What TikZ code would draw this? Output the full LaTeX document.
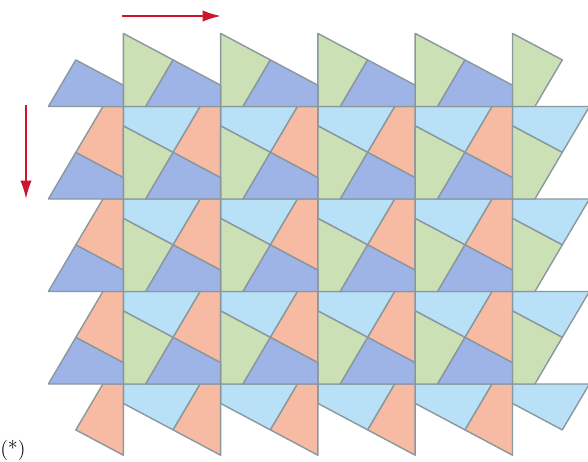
\documentclass[tikz,border=0pt]{standalone}
\usepackage{xcolor}
\usepackage{tikz}
\usetikzlibrary{arrows.meta}

\definecolor{verde}{RGB}{204,224,182}
\definecolor{azul}{RGB}{158,180,230}
\definecolor{salmon}{RGB}{247,186,162}
\definecolor{celeste}{RGB}{184,224,246}
\definecolor{borde}{RGB}{138,152,158}
\definecolor{rojo}{RGB}{205,22,45}

\begin{document}
\begin{tikzpicture}[
    x=0.025cm, y=-0.025cm,
    pieza/.style={draw=borde, line width=1pt, line join=round},
    flecha/.style={-{Latex[length=13pt, width=8pt]}, draw=rojo, line width=1.4pt}
]
    \useasboundingbox (0,0) rectangle (588,462);
    \clip (0,0) rectangle (588,462);

    % Piezas celestes
    \foreach \c in {1,...,5}
        \foreach \r in {1,...,4}
            \draw[pieza, fill=celeste, shift={({26+97.3*\c},{14+92.5*\r})}]
                (0,0) -- (76.9,0) -- (49.8,45.9) -- (0,19.4) -- cycle;

    % Piezas salmon
    \foreach \c in {0,...,4}
        \foreach \r in {1,...,4}
            \draw[pieza, fill=salmon, shift={({26+97.3*\c},{14+92.5*\r})}]
                (76.9,0) -- (97.3,0) -- (97.3,71.2) -- (49.8,45.9) -- cycle;

    % Piezas verdes
    \foreach \c in {1,...,5}
        \foreach \r in {0,...,3}
            \draw[pieza, fill=verde, shift={({26+97.3*\c},{14+92.5*\r})}]
                (0,19.4) -- (49.8,45.9) -- (22.4,92.5) -- (0,92.5) -- cycle;

    % Piezas azules
    \foreach \c in {0,...,4}
        \foreach \r in {0,...,3}
            \draw[pieza, fill=azul, shift={({26+97.3*\c},{14+92.5*\r})}]
                (49.8,45.9) -- (97.3,71.2) -- (97.3,92.5) -- (22.4,92.5) -- cycle;

    % Flechas
    \coordinate (h0) at (122,16);
    \coordinate (h1) at (221,16);
    \coordinate (v0) at (26,105);
    \coordinate (v1) at (26,199);
    \draw[flecha] (h0) -- (h1);
    \draw[flecha] (v0) -- (v1);

    % Nota
    \node[anchor=south west, inner sep=0pt, font=\Large] (nota) at (0,461) {(*)};
\end{tikzpicture}
\end{document}
